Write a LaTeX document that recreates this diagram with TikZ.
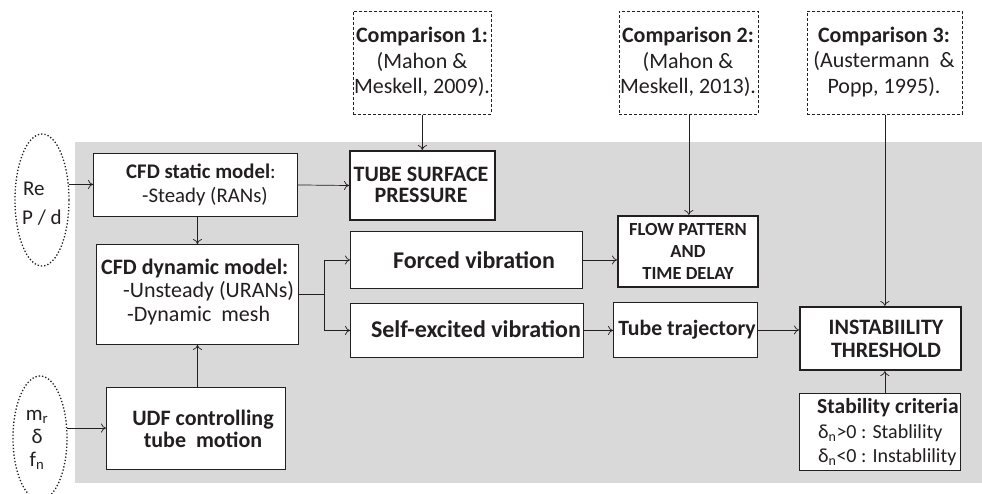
\documentclass[tikz,border=0pt]{standalone}
\usepackage{fontspec}
\setmainfont{Carlito}
\usetikzlibrary{arrows.meta,shapes.geometric}
\definecolor{bg}{HTML}{D9D9D9}
\definecolor{ink}{HTML}{231F20}
\begin{document}
\begin{tikzpicture}[x=1pt,y=-1pt,
  box/.style={draw=ink, fill=white, line width=0.9pt, inner sep=0pt, anchor=north west},
  thickbox/.style={box, line width=2pt},
  cmpbox/.style={box, dashed, dash pattern=on 3pt off 2pt, line width=0.7pt},
  oval/.style={draw=ink, ellipse, dotted, line width=1.3pt, inner sep=0pt},
  arr/.style={draw=ink, line width=0.7pt, -{To[length=5pt,width=9pt]}},
  plain/.style={draw=ink, line width=0.7pt},
  txt/.style={text=ink, inner sep=0pt, align=center},
  cmpf/.style={font=\fontsize{22}{25.5}\selectfont},
  critf/.style={text=ink, inner sep=0pt, anchor=west, font=\fontsize{20}{24}\selectfont}
]
\useasboundingbox (0,0) rectangle (982,493);
\fill[bg] (75,142) rectangle (982,483);

% boxes
\node[cmpbox, minimum width=138pt, minimum height=103pt] (c1) at (353,11) {};
\node[cmpbox, minimum width=139pt, minimum height=103pt] (c2) at (619,11) {};
\node[cmpbox, minimum width=155pt, minimum height=103pt] (c3) at (807,11) {};
\node[box, minimum width=204pt, minimum height=63pt] (static) at (93,153) {};
\node[box, minimum width=202pt, minimum height=100pt] (dyn) at (96,244) {};
\node[box, minimum width=179pt, minimum height=82pt] (udf) at (106,387) {};
\node[thickbox, minimum width=145pt, minimum height=69pt] (tsp) at (349,150) {};
\node[box, minimum width=232pt, minimum height=57pt] (forced) at (350,231) {};
\node[box, minimum width=233pt, minimum height=54pt] (self) at (350,303) {};
\node[thickbox, minimum width=140pt, minimum height=71pt] (flow) at (617,215) {};
\node[box, minimum width=144pt, minimum height=55pt] (traj) at (613,302) {};
\node[thickbox, minimum width=161pt, minimum height=63pt] (inst) at (799,306) {};
\node[box, minimum width=161pt, minimum height=77pt] (stab) at (799,393) {};
\node[oval, minimum width=54pt, minimum height=132pt] (e1) at (42,200) {};
\node[oval, minimum width=54pt, minimum height=124pt] (e2) at (40,438) {};

% texts
\node[txt, cmpf] (c1t) at (422,62) {\textbf{Comparison 1:}\\(Mahon \&\\Meskell, 2009).};
\node[txt, cmpf] (c2t) at (688,62) {\textbf{Comparison 2:}\\(Mahon \&\\Meskell, 2013).};
\node[txt, cmpf] (c3t) at (884,62) {\textbf{Comparison 3:}\\(Austermann\ \ \&\\Popp, 1995).};
\node[txt, align=left, anchor=west, font=\fontsize{20.8}{24}\selectfont] (statict) at (126,185) {\textbf{CFD static model}:\\\hspace*{16pt}-Steady (RANs)};
\node[txt, align=left, anchor=west, font=\fontsize{22}{23.5}\selectfont] (dynt) at (101,292) {\textbf{CFD dynamic model:}\\\hspace*{22pt}-Unsteady (URANs)\\\hspace*{26pt}-Dynamic\ \ mesh};
\node[txt, font=\fontsize{22}{22}\selectfont\bfseries] (udft) at (203,429) {UDF controlling\\tube\ \ motion};
\node[txt, font=\fontsize{22}{21.5}\selectfont\bfseries] (tspt) at (421,185) {TUBE SURFACE\\PRESSURE};
\node[txt, font=\fontsize{24}{24}\selectfont\bfseries] (forcedt) at (474,260) {Forced vibration};
\node[txt, font=\fontsize{24}{24}\selectfont\bfseries] (selft) at (476,329) {Self-excited vibration};
\node[txt, font=\fontsize{18.5}{22}\selectfont\bfseries] (flowt) at (688,251) {FLOW PATTERN\\AND\\TIME DELAY};
\node[txt, font=\fontsize{21.8}{24}\selectfont\bfseries] (trajt) at (687,330) {Tube trajectory};
\node[txt, font=\fontsize{22}{23}\selectfont\bfseries] (instt) at (886,339) {INSTABIILITY\\THRESHOLD};
\node[txt, anchor=west, font=\fontsize{21.5}{24}\selectfont\bfseries] (stabh) at (817,408) {Stability criteria};
\node[critf] (stab1) at (818,433) {δ\textsubscript{n}>0 : Stablility};
\node[critf] (stab2) at (818,457) {δ\textsubscript{n}<0 : Instablility};
\node[txt, align=left, anchor=west, font=\fontsize{21}{29}\selectfont] (e1t) at (22,204) {\hspace*{1pt}Re\\P / d};
\node[txt, font=\fontsize{21}{23}\selectfont] (e2t) at (37,440) {m\textsubscript{r}\\δ\\f\textsubscript{n}};

% connectors
\draw[arr] (e1.30) -- (e1.30 -| static.west);
\draw[arr] (e2.20) -- (e2.20 -| udf.west);
\draw[arr] (static.east) -- (tsp.west);
\draw[arr] (static.south -| dyn.north) -- (dyn.north);
\draw[arr] (udf.north -| dyn.south) -- (dyn.south);
\coordinate (split) at (324,294);
\draw[plain] (dyn.east |- split) -- (split);
\draw[arr] (split) |- (forced.west);
\draw[arr] (split) |- (self.west);
\draw[arr] (forced.east) -- (forced.east -| flow.west);
\draw[arr] (self.east) -- (self.east -| traj.west);
\draw[arr] (traj.east) -- (traj.east -| inst.west);
\draw[arr] (c1.south) -- (c1.south |- tsp.north);
\draw[arr] (c2.south) -- (c2.south |- flow.north);
\draw[arr] (c3.south) -- (c3.south |- inst.north);
\draw[arr] (stab.north -| c3.south) -- (c3.south |- inst.south);
\end{tikzpicture}
\end{document}
